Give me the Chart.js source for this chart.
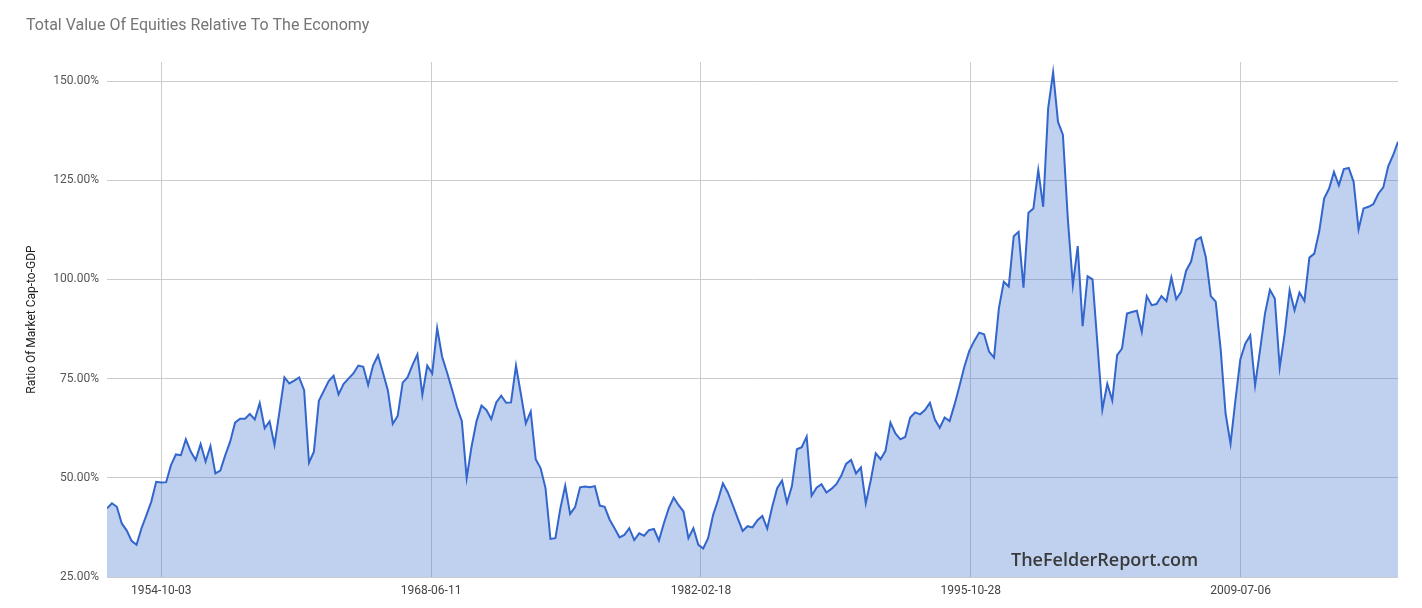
<!DOCTYPE html>
<html>
<head>
<meta charset="utf-8">
<title>Total Value Of Equities Relative To The Economy</title>
<script src="https://cdn.jsdelivr.net/npm/chart.js@4.4.1/dist/chart.umd.min.js"></script>
<style>
  body { margin: 0; background: #fff; }
</style>
</head>
<body>
<canvas id="myChartequities" width="1422" height="608"></canvas>
<script>
const chartTitle = 'Total Value Of Equities Relative To The Economy';
const axisTitle = 'Ratio Of Market Cap-to-GDP';
const watermark = 'TheFelderReport.com';

// quarterly, first quarter of 1952 through third quarter of 2017
const firstYear = 1952;
const ratio = [
  42.3, 43.6, 42.7, 38.5, 36.7, 34.1, 33.1, 37.3, 40.6, 44.0,
  49.0, 48.8, 48.9, 53.2, 55.9, 55.7, 59.7, 56.6, 54.5, 58.5,
  54.1, 58.0, 51.1, 51.8, 55.7, 59.1, 63.9, 64.9, 64.9, 66.1,
  64.7, 68.8, 62.5, 64.2, 58.3, 66.7, 75.3, 73.8, 74.5, 75.3,
  72.1, 53.8, 56.6, 69.4, 71.9, 74.4, 75.7, 71.0, 73.6, 75.0,
  76.3, 78.3, 78.0, 73.4, 78.3, 80.9, 76.5, 72.1, 63.6, 65.6,
  74.0, 75.3, 78.4, 81.1, 70.9, 78.3, 76.3, 87.7, 80.5, 76.6,
  72.4, 67.9, 64.3, 49.9, 57.9, 64.3, 68.2, 67.1, 64.8, 69.0,
  70.7, 68.9, 69.0, 78.3, 71.0, 63.7, 66.7, 54.7, 52.4, 47.4,
  34.6, 34.8, 42.3, 48.0, 40.9, 42.6, 47.6, 47.8, 47.6, 47.9,
  43.0, 42.7, 39.5, 37.3, 35.0, 35.6, 37.3, 34.3, 36.0, 35.4,
  36.8, 37.1, 34.2, 38.5, 42.3, 45.0, 43.1, 41.5, 34.8, 37.3,
  33.1, 32.2, 34.8, 40.6, 44.4, 48.6, 46.3, 43.1, 39.8, 36.6,
  37.8, 37.5, 39.3, 40.4, 37.2, 42.7, 47.4, 49.3, 43.7, 47.9,
  57.2, 57.7, 60.4, 45.5, 47.5, 48.4, 46.3, 47.2, 48.4, 50.5,
  53.5, 54.5, 51.1, 52.6, 43.6, 49.4, 56.2, 54.7, 56.8, 63.9,
  61.2, 59.7, 60.3, 65.2, 66.5, 66.0, 67.1, 68.9, 64.7, 62.6,
  65.2, 64.3, 68.5, 73.1, 78.0, 82.0, 84.5, 86.6, 86.2, 81.8,
  80.3, 92.7, 99.4, 98.2, 110.9, 112.0, 97.9, 116.8, 117.9, 127.6,
  118.3, 143.1, 152.2, 139.7, 136.4, 115.0, 98.6, 108.4, 88.2, 100.8,
  100.0, 83.8, 67.2, 73.7, 69.5, 80.9, 82.6, 91.4, 91.8, 92.1,
  86.8, 95.8, 93.5, 93.8, 95.8, 94.5, 100.5, 95.0, 96.9, 102.2,
  104.5, 109.9, 110.6, 105.6, 95.8, 94.4, 82.5, 66.2, 58.6, 69.5,
  79.8, 83.8, 85.9, 73.3, 82.1, 91.4, 97.4, 95.2, 77.8, 86.3,
  97.3, 92.2, 96.7, 94.6, 105.5, 106.5, 112.0, 120.4, 122.9, 127.1,
  123.7, 127.8, 128.1, 124.6, 112.6, 117.9, 118.3, 119.0, 121.6, 123.2,
  128.5, 131.3, 134.7
];

const xTickDates = ['1954-10-03', '1968-06-11', '1982-02-18', '1995-10-28', '2009-07-06'];
const yTicks = [25, 50, 75, 100, 125, 150];

const quarterDates = ratio.map(function (v, i) {
  return Date.UTC(firstYear + Math.floor(i / 4), (i % 4) * 3, 1);
});
const points = ratio.map(function (v, i) {
  return { x: quarterDates[i], y: v };
});

Chart.defaults.font.family = 'Roboto';

const extraText = {
  id: 'extraText',
  afterDraw(chart) {
    const c = chart.ctx;
    c.save();
    c.textBaseline = 'alphabetic';
    c.textAlign = 'left';
    c.fillStyle = '#757575';
    c.font = '16px Roboto';
    c.fillText(chartTitle, 26, 30);
    c.fillStyle = '#3a3a3a';
    c.font = '600 18px "Open Sans"';
    c.fillText(watermark, 1011, 566);
    c.restore();
  }
};

const ctxequities = document.getElementById('myChartequities');

const myChartequities = new Chart(ctxequities, {
  type: 'line',
  data: {
    datasets: [{
      label: axisTitle,
      data: points,
      borderColor: '#3366cc',
      backgroundColor: 'rgba(51, 102, 204, 0.31)',
      borderWidth: 2,
      fill: 'start',
      pointRadius: 0,
      tension: 0
    }]
  },
  options: {
    responsive: false,
    animation: false,
    layout: { padding: { top: 62, right: 24, bottom: 0, left: 0 } },
    plugins: {
      legend: { display: false },
      tooltip: { enabled: false }
    },
    scales: {
      x: {
        type: 'linear',
        min: quarterDates[0],
        max: quarterDates[quarterDates.length - 1],
        afterBuildTicks: function (scale) {
          scale.ticks = xTickDates.map(function (d) { return { value: Date.parse(d) }; });
        },
        afterFit: function (scale) { scale.height = 31; },
        ticks: {
          autoSkip: false,
          maxRotation: 0,
          padding: 7,
          color: '#444',
          font: { size: 12 },
          callback: function (value) {
            return new Date(value).toISOString().slice(0, 10);
          }
        },
        grid: { color: '#cccccc', drawTicks: false },
        border: { display: false }
      },
      y: {
        min: 25,
        max: 154.8,
        afterBuildTicks: function (scale) {
          scale.ticks = yTicks.map(function (v) { return { value: v }; });
        },
        afterFit: function (scale) { scale.width = 107; },
        ticks: {
          padding: 8,
          color: '#555',
          font: { size: 12 },
          callback: function (value) { return value.toFixed(2) + '%'; }
        },
        title: {
          display: true,
          text: axisTitle,
          color: '#222',
          font: { size: 12 },
          padding: { top: 25, bottom: 0 }
        },
        grid: { color: '#cccccc', drawTicks: false },
        border: { display: false }
      }
    }
  },
  plugins: [extraText]
});
</script>
</body>
</html>
